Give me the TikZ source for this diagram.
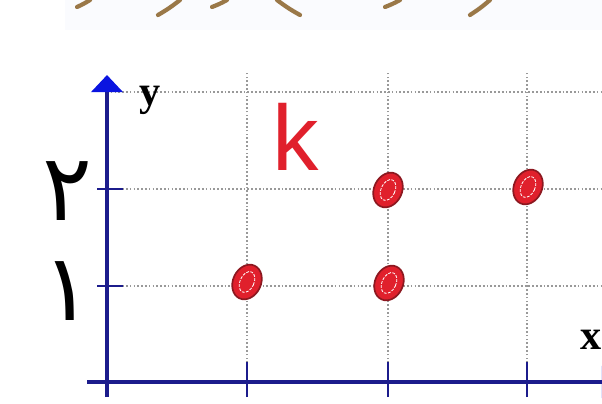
\documentclass[tikz,border=0pt]{standalone}
\usepackage{fontspec}
\usepackage{tikz}
\usetikzlibrary{arrows.meta,calc}
\TeXXeTstate=1
\newfontfamily\arabicfont[Script=Arabic]{DejaVu Sans}
\newfontfamily\labelfont{Liberation Serif}
\newfontfamily\letterfont{Liberation Sans}
\definecolor{axisNavy}{HTML}{1C1C8C}
\definecolor{axisBlue}{HTML}{0A14E0}
\definecolor{gridGray}{HTML}{999999}
\definecolor{dotRed}{HTML}{E0202C}
\definecolor{dotDark}{HTML}{8C1820}
\definecolor{inkBrown}{HTML}{9A7848}
\definecolor{bandTint}{HTML}{FAFBFE}

\begin{document}
\begin{tikzpicture}[
    x=0.025cm, y=0.025cm,
    axis/.style={axisNavy, line width=3.2pt, -{Triangle[length=0.43cm, width=0.78cm, color=axisBlue]}},
    tick/.style={axisNavy, line width=2pt},
    gridline/.style={gridGray, line width=1.1pt, dash pattern=on 1.2pt off 1.5pt},
    dot/.style={fill=dotRed, draw=dotDark, line width=1.2pt},
    shine/.style={white, line width=0.6pt, dash pattern=on 2pt off 1pt},
    ink/.style={inkBrown, line width=3pt, line cap=round},
    axislabel/.style={font=\labelfont\bfseries\fontsize{30}{30}\selectfont, inner sep=0pt},
    digit/.style={font=\arabicfont\fontsize{66}{66}\selectfont, inner sep=0pt}
]
\useasboundingbox (-107,-21) rectangle (495,382);

% cut-off heading strip
\fill[bandTint] (-42,352) rectangle (495,382);
\draw[ink] (-30,375) to[bend right=4] (-17,382);
\draw[ink] (51,367) to[bend right=4] (73,382);
\draw[ink] (105,375) to[bend right=4] (120,382);
\draw[ink] (170,382) to[bend right=4] (193,367);
\draw[ink] (278,375) to[bend right=4] (293,382);
\draw[ink] (363,367) to[bend right=4] (383,382);

% grid
\foreach \gy in {96,193,290}
    \draw[gridline] (0,\gy) -- (495,\gy);
\foreach \gx in {140,281,420}
    \draw[gridline] (\gx,0) -- (\gx,309);

% axes and ticks
\coordinate (origin) at (0,0);
\coordinate (ytop) at (0,307);
\coordinate (xend) at (512,0);
\draw[axis] (0,-15) -- (ytop);
\draw[axis] (-20,0) -- (xend);
\foreach \gx in {140,281,420}
    \draw[tick] (\gx,-15) -- (\gx,20);
\foreach \gy in {96,193}
    \draw[tick] (-10,\gy) -- (16,\gy);

\node[axislabel] (ylabel) at (43,282) {y};
\node[axislabel] (xlabel) at (484,42) {x};

\node[digit] (two) at (-40,191) {\beginR ۲\endR};
\node[digit] (one) at (-40,91) {\beginR ۱\endR};

\node[font=\letterfont\fontsize{66}{66}\selectfont, text=dotRed, inner sep=0pt] (letterk) at (189,245) {k};

% points
\foreach \px/\py in {140/100, 282/99, 281/192, 421/195} {
    \draw[dot, rotate around={-25:(\px,\py)}] (\px,\py) ellipse [x radius=14, y radius=18];
    \draw[shine, rotate around={-25:(\px,\py)}] (\px,\py) ellipse [x radius=7, y radius=11];
}

\end{tikzpicture}
\end{document}
